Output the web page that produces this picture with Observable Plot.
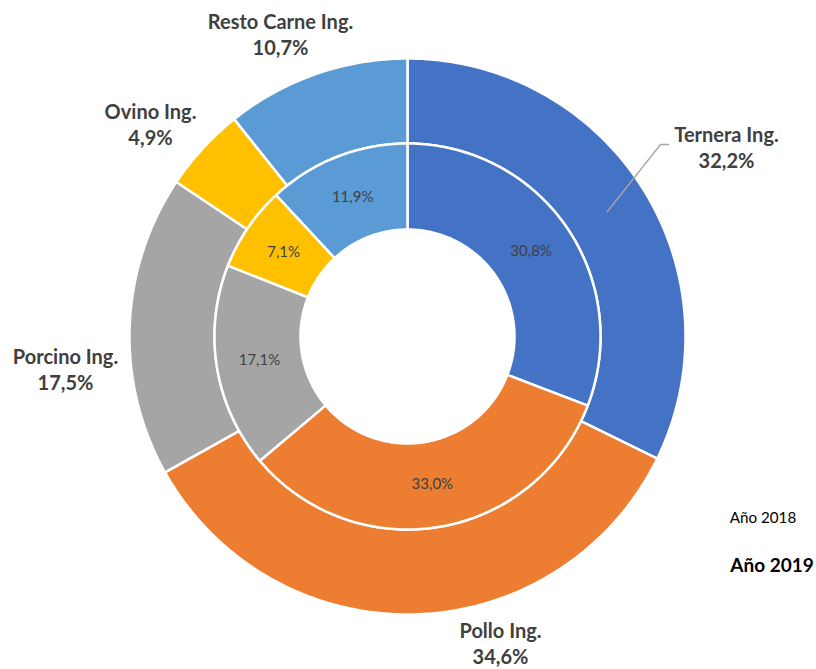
<!DOCTYPE html>
<html>
<head>
<meta charset="utf-8">
<script src="https://cdn.jsdelivr.net/npm/d3@7"></script>
<script src="https://cdn.jsdelivr.net/npm/@observablehq/plot@0.6"></script>
<style>
  html, body { margin: 0; padding: 0; background: #fff; }
  #chart svg { display: block; }
</style>
</head>
<body>
<div id="chart"></div>
<script>
// ---- data ----
const categories = ["Ternera Ing.", "Pollo Ing.", "Porcino Ing.", "Ovino Ing.", "Resto Carne Ing."];
const values2018 = [30.8, 33.0, 17.1, 7.1, 11.9];   // inner ring
const values2019 = [32.2, 34.6, 17.5, 4.9, 10.7];   // outer ring
const ringNames = ["Año 2018", "Año 2019"];

// ---- layout ----
const colors = ["#4472C4", "#ED7D31", "#A5A5A5", "#FFC000", "#5B9BD5"];
const R0 = 107, R1 = 193, R2 = 278;          // hole, inner/outer boundary, outer edge
const outerLabelPos = [[319, 190], [93, -306], [-342, -32], [-257, 213], [-127, 303]];
const legendPos = [[355.5, -182], [364.5, -229]];

const fmt = v => v.toFixed(1).replace(".", ",") + "%";

function ring(values, r0, r1, ringId) {
  const total = d3.sum(values);
  let cum = 0;
  const polys = [], mids = [];
  values.forEach((v, i) => {
    const a0 = cum / total * 2 * Math.PI;
    cum += v;
    const a1 = cum / total * 2 * Math.PI;
    const n = Math.max(4, Math.ceil((a1 - a0) / (2 * Math.PI) * 360));
    const id = ringId + "-" + i;
    const pts = [];
    for (let k = 0; k <= n; k++) {
      const a = a0 + (a1 - a0) * k / n;
      pts.push({x: r1 * Math.sin(a), y: r1 * Math.cos(a)});
    }
    for (let k = n; k >= 0; k--) {
      const a = a0 + (a1 - a0) * k / n;
      pts.push({x: r0 * Math.sin(a), y: r0 * Math.cos(a)});
    }
    pts.push(pts[0]);
    pts.forEach(p => polys.push({...p, id, cat: categories[i]}));
    mids.push({angle: (a0 + a1) / 2, value: v, cat: categories[i], i});
  });
  return {polys, mids};
}

const inner = ring(values2018, R0, R1, "2018");
const outer = ring(values2019, R1, R2, "2019");

const innerLabels = inner.mids.map(m => ({
  x: 150 * Math.sin(m.angle), y: 150 * Math.cos(m.angle), text: fmt(m.value)
}));
const outerLabels = outer.mids.map((m, i) => ({
  x: outerLabelPos[i][0], y: outerLabelPos[i][1], text: m.cat + "\n" + fmt(m.value)
}));
// leader line for the first outer label
const rm = (R1 + R2) / 2, am = outer.mids[0].angle;
const leader = [
  {x: rm * Math.sin(am), y: rm * Math.cos(am)},
  {x: 253, y: 192},
  {x: 261, y: 192}
];
const legend = ringNames.map((t, i) => ({x: legendPos[i][0], y: legendPos[i][1], text: t, bold: i === 1}));

const chart = Plot.plot({
  width: 816, height: 669,
  margin: 0,
  x: {domain: [-407, 409], axis: null},
  y: {domain: [-333, 336], axis: null},
  color: {domain: categories, range: colors},
  style: {fontFamily: "Lato, 'Open Sans', sans-serif", background: "#fff"},
  marks: [
    Plot.line(outer.polys, {x: "x", y: "y", z: "id", fill: "cat", stroke: "white", strokeWidth: 2.5, curve: "linear"}),
    Plot.line(inner.polys, {x: "x", y: "y", z: "id", fill: "cat", stroke: "white", strokeWidth: 2.5, curve: "linear"}),
    Plot.line(leader, {x: "x", y: "y", stroke: "#A6A6A6", strokeWidth: 1.3}),
    Plot.text(innerLabels, {x: "x", y: "y", text: "text", fill: "#404040", fontSize: 15}),
    Plot.text(outerLabels, {x: "x", y: "y", text: "text", fill: "#404040", fontSize: 20, fontWeight: "bold", lineHeight: 1.3}),
    Plot.text(legend.filter(d => !d.bold), {x: "x", y: "y", text: "text", fill: "#000", fontSize: 15.2}),
    Plot.text(legend.filter(d => d.bold), {x: "x", y: "y", text: "text", fill: "#000", fontSize: 19, fontWeight: "bold"})
  ]
});
document.getElementById("chart").append(chart);
</script>
</body>
</html>
